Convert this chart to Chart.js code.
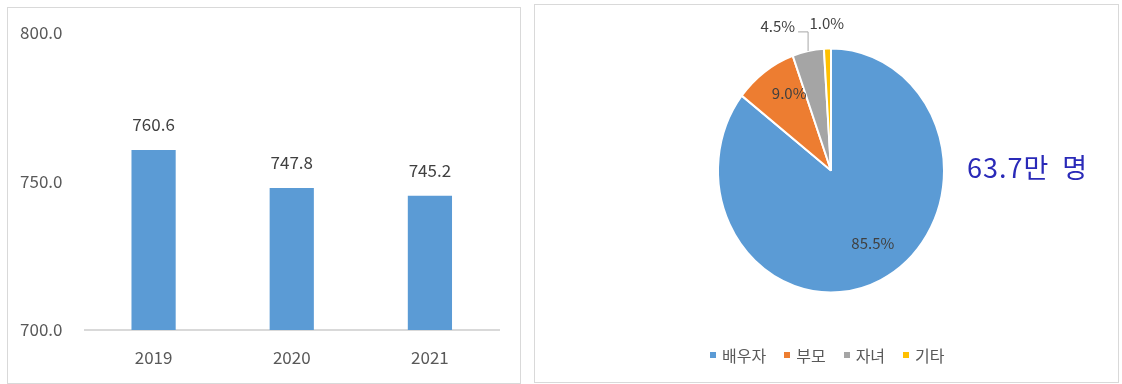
<!DOCTYPE html>
<html>
<head>
<meta charset="utf-8">
<script src="https://cdn.jsdelivr.net/npm/chart.js@4"></script>
<style>
  body { margin: 0; background: #fff; font-family: "Noto Sans CJK KR", sans-serif; }
  #wrap { position: relative; width: 1122px; height: 384px; overflow: hidden; }
  .panel { position: absolute; border: 1px solid #d9d9d9; box-sizing: border-box; }
  #barBox { position: absolute; left: 0; top: 0; width: 530px; height: 384px; }
  #pieBox { position: absolute; left: 530px; top: 0; width: 592px; height: 384px; }
  #total { position: absolute; left: 967px; top: 148px; font-size: 27px; letter-spacing: 1px; word-spacing: 6px; color: #2a2ab8; white-space: nowrap; line-height: 38px; }
  #legend { position: absolute; left: 710px; top: 344px; display: flex; align-items: center; font-size: 16px; color: #595959; line-height: 22px; }
  #legend .item { display: flex; align-items: center; margin-right: 18px; }
  #legend .sw { width: 6px; height: 6px; margin-right: 6px; }
</style>
</head>
<body>
<div id="wrap">
  <div class="panel" style="left:7px; top:7px; width:514px; height:377px;"></div>
  <div class="panel" style="left:534px; top:4px; width:585px; height:379px;"></div>
  <div id="barBox"><canvas id="barChart"></canvas></div>
  <div id="pieBox"><canvas id="pieChart"></canvas></div>
  <div id="total"></div>
  <div id="legend"></div>
</div>
<script>
// 막대 차트 데이터
const years = ['2019', '2020', '2021']
const values = [760.6, 747.8, 745.2]
const yTicks = [700, 750, 800]

// 원 차트 데이터
const relations = ['배우자', '부모', '자녀', '기타']
const shares = [85.5, 9.0, 4.5, 1.0]
const totalText = '63.7만 명'

const pieColors = ['#5B9BD5', '#ED7D31', '#A5A5A5', '#FFC000']
const labelInside = [true, true, false, false]
const labelLeader = [false, false, true, false]
const textColor = '#595959'
const fontFamily = '"Noto Sans CJK KR", "Liberation Sans", sans-serif'

// 막대 위 값 표시
const barLabels = {
  id: 'barLabels',
  afterDatasetsDraw(chart) {
    const ctx = chart.ctx
    const meta = chart.getDatasetMeta(0)
    ctx.save()
    ctx.font = '17px ' + fontFamily
    ctx.fillStyle = '#404040'
    ctx.textAlign = 'center'
    ctx.textBaseline = 'middle'
    meta.data.forEach((bar, i) => {
      ctx.fillText(values[i].toFixed(1), bar.x, bar.y - 25)
    })
    ctx.restore()
  }
}

new Chart(document.getElementById('barChart'), {
  type: 'bar',
  data: {
    labels: years,
    datasets: [{
      data: values,
      backgroundColor: '#5B9BD5',
      barPercentage: 0.32,
      categoryPercentage: 1
    }]
  },
  options: {
    responsive: true,
    maintainAspectRatio: false,
    animation: false,
    layout: { padding: { top: 33, right: 31, left: 0, bottom: 0 } },
    plugins: { legend: { display: false }, tooltip: { enabled: false } },
    scales: {
      x: {
        grid: { display: false, drawTicks: false },
        border: { display: true, color: '#d9d9d9', width: 2 },
        ticks: { color: textColor, font: { size: 17, family: fontFamily }, padding: 17 },
        afterFit: (scale) => { scale.height = 54 }
      },
      y: {
        min: yTicks[0],
        max: yTicks[yTicks.length - 1],
        grid: { display: false, drawTicks: false },
        border: { display: false },
        afterBuildTicks: (scale) => { scale.ticks = yTicks.map(v => ({ value: v })) },
        ticks: {
          color: textColor,
          font: { size: 17, family: fontFamily },
          padding: 22,
          callback: (v) => Number(v).toFixed(1)
        },
        afterFit: (scale) => { scale.width = 84.5 }
      }
    }
  },
  plugins: [barLabels]
})

// 원을 세로로 약간 늘려서 그리기 + 비율 표시
const stretch = 1.08
const pieStretch = {
  id: 'pieStretch',
  beforeDatasetsDraw(chart) {
    const arc = chart.getDatasetMeta(0).data[0]
    const ctx = chart.ctx
    ctx.save()
    ctx.translate(arc.x, arc.y)
    ctx.scale(1, stretch)
    ctx.translate(-arc.x, -arc.y)
  },
  afterDatasetsDraw(chart) {
    const ctx = chart.ctx
    ctx.restore()
    ctx.save()
    ctx.font = '15px ' + fontFamily
    ctx.fillStyle = '#404040'
    ctx.textBaseline = 'middle'
    chart.getDatasetMeta(0).data.forEach((arc, i) => {
      const mid = (arc.startAngle + arc.endAngle) / 2
      const R = arc.outerRadius
      const text = shares[i].toFixed(1) + '%'
      if (labelInside[i]) {
        const r = R * 0.72
        ctx.textAlign = 'center'
        ctx.fillText(text, arc.x + Math.cos(mid) * r + 6, arc.y + Math.sin(mid) * r * stretch - 6)
      } else {
        const r = R * 1.21
        const lx = arc.x + Math.cos(mid) * r
        const ly = arc.y + Math.sin(mid) * r * stretch
        if (labelLeader[i]) {
          const ex = arc.x + Math.cos(mid) * R
          const ey = arc.y + Math.sin(mid) * R * stretch
          ctx.strokeStyle = '#a6a6a6'
          ctx.lineWidth = 1
          ctx.beginPath()
          ctx.moveTo(ex, ey)
          ctx.lineTo(ex, ly + 6)
          ctx.lineTo(ex - 10, ly + 6)
          ctx.stroke()
          ctx.textAlign = 'right'
          ctx.fillText(text, ex - 13, ly)
        } else {
          ctx.textAlign = 'center'
          ctx.fillText(text, lx, ly)
        }
      }
    })
    ctx.restore()
  }
}

new Chart(document.getElementById('pieChart'), {
  type: 'pie',
  data: {
    labels: relations,
    datasets: [{
      data: shares,
      backgroundColor: pieColors,
      borderColor: '#ffffff',
      borderWidth: 2
    }]
  },
  options: {
    responsive: true,
    maintainAspectRatio: false,
    animation: false,
    layout: { padding: { left: 187, right: 177, top: 56.5, bottom: 99.5 } },
    plugins: { legend: { display: false }, tooltip: { enabled: false } }
  },
  plugins: [pieStretch]
})

// 총계, 범례
document.getElementById('total').textContent = totalText
const legend = document.getElementById('legend')
relations.forEach((name, i) => {
  const item = document.createElement('div')
  item.className = 'item'
  item.innerHTML = `<span class="sw" style="background:${pieColors[i]}"></span><span>${name}</span>`
  legend.appendChild(item)
})
</script>
</body>
</html>
